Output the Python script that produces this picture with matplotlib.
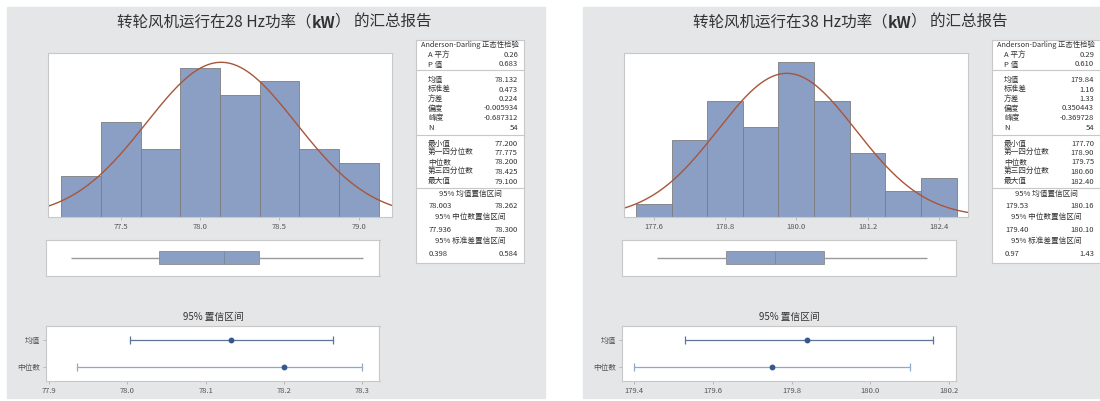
import numpy as np
import matplotlib
matplotlib.use('Agg')
import matplotlib.pyplot as plt
from matplotlib.patches import Rectangle

plt.rcParams['font.family'] = ['Noto Sans CJK SC', 'DejaVu Sans']

# ---- du lieu 28 Hz ----
hz28_edges = [77.125, 77.375, 77.625, 77.875, 78.125, 78.375, 78.625, 78.875, 79.125]
hz28_counts = [3, 7, 5, 11, 9, 10, 5, 4]
hz28_ad = ['0.26', '0.683']
hz28_desc = ['78.132', '0.473', '0.224', '-0.005934', '-0.687312', '54']
hz28_quart = ['77.200', '77.775', '78.200', '78.425', '79.100']
hz28_ci = [('78.003', '78.262'), ('77.936', '78.300'), ('0.398', '0.584')]
hz28_ticks = [77.5, 78.0, 78.5, 79.0]
hz28_ci_ticks = [77.9, 78.0, 78.1, 78.2, 78.3]

# ---- du lieu 38 Hz ----
hz38_edges = [177.3, 177.9, 178.5, 179.1, 179.7, 180.3, 180.9, 181.5, 182.1, 182.7]
hz38_counts = [1, 6, 9, 7, 12, 9, 5, 2, 3]
hz38_ad = ['0.29', '0.610']
hz38_desc = ['179.84', '1.16', '1.33', '0.350443', '-0.369728', '54']
hz38_quart = ['177.70', '178.90', '179.75', '180.60', '182.40']
hz38_ci = [('179.53', '180.16'), ('179.40', '180.10'), ('0.97', '1.43')]
hz38_ticks = [177.6, 178.8, 180.0, 181.2, 182.4]
hz38_ci_ticks = [179.4, 179.6, 179.8, 180.0, 180.2]

ad_labels = ['A 平方', 'P 值']
desc_labels = ['均值', '标准差', '方差', '偏度', '峰度', 'N']
quart_labels = ['最小值', '第一四分位数', '中位数', '第三四分位数', '最大值']
ci_heads = ['95% 均值置信区间', '95% 中位数置信区间', '95% 标准差置信区间']

W, H = 1100, 401
BG = '#e5e6e8'
BAR = '#8b9fc5'
TXT = '#333333'
SPINE = '#c8c8c8'

fig = plt.figure(figsize=(W / 100, H / 100), dpi=100)
bg = fig.add_axes([0, 0, 1, 1])
bg.set_xlim(0, W)
bg.set_ylim(H, 0)
bg.axis('off')


def rect(l, t, r, b):
    return [l / W, 1 - b / H, (r - l) / W, (b - t) / H]


def style_axes(ax):
    for s in ax.spines.values():
        s.set_color(SPINE)
        s.set_linewidth(0.8)


def draw_panel(dx, hz, edges, counts, ad, desc, quart, ci, hist_ticks, ci_ticks, hist_lim, ci_lim):
    # nen xam
    bg.add_patch(Rectangle((7 + dx, 7), 538, 391, color=BG, zorder=0))

    # tieu de (kW in dam)
    t1 = bg.text(117 + dx, 22, f'转轮风机运行在{hz} Hz功率（', fontsize=11.2, color=TXT,
                 ha='left', va='center')
    t2 = bg.annotate('kW', xy=(1, 0), xycoords=t1, ha='left', va='bottom', fontsize=11.2,
                     fontweight='bold', color=TXT)
    bg.annotate('） 的汇总报告', xy=(1, 0), xycoords=t2, ha='left', va='bottom',
                fontsize=11.2, color=TXT)

    mean, sd, n = float(desc[0]), float(desc[1]), int(desc[5])
    q = [float(v) for v in quart]
    width = edges[1] - edges[0]

    # histogram + duong phan phoi chuan
    ax = fig.add_axes(rect(48 + dx, 53, 392 + dx, 217))
    ax.bar(edges[:-1], counts, width=np.diff(edges), align='edge', color=BAR,
           edgecolor='#7d7d7d', linewidth=0.6)
    xs = np.linspace(hist_lim[0], hist_lim[1], 400)
    pdf = n * width * np.exp(-0.5 * ((xs - mean) / sd) ** 2) / (sd * np.sqrt(2 * np.pi))
    ax.plot(xs, pdf, color='#a8553a', linewidth=1.0)
    ax.set_xlim(hist_lim)
    ax.set_ylim(0, 1.06 * max(max(counts), pdf.max()))
    ax.set_xticks(hist_ticks)
    ax.set_xticklabels([f'{t:.1f}' for t in hist_ticks])
    ax.set_yticks([])
    ax.tick_params(axis='x', length=2, width=0.6, color='#b0b0b0', labelsize=5.5,
                   labelcolor='#555555', pad=2)
    style_axes(ax)

    # boxplot
    bx = fig.add_axes(rect(46 + dx, 239.5, 379.5 + dx, 276))
    bx.hlines(0.5, q[0], q[1], color='#9a9a9a', linewidth=1.0)
    bx.hlines(0.5, q[3], q[4], color='#9a9a9a', linewidth=1.0)
    bx.barh(0.5, q[3] - q[1], left=q[1], height=0.36, color=BAR, edgecolor='#8a8a8a',
            linewidth=0.6)
    bx.vlines(q[2], 0.32, 0.68, color='#7a869c', linewidth=0.6)
    bx.set_xlim(hist_lim)
    bx.set_ylim(0, 1)
    bx.set_xticks([])
    bx.set_yticks([])
    style_axes(bx)

    # khoang tin cay 95%
    bg.text(213 + dx, 317, '95% 置信区间', fontsize=7, color=TXT, ha='center', va='center')
    cx = fig.add_axes(rect(46 + dx, 326, 379.5 + dx, 381))
    rows = [(mean, ci[0], 0.75, '#5d7398'), (q[2], ci[1], 0.25, '#8fa8cd')]
    for val, (lo, hi), yy, col in rows:
        lo, hi = float(lo), float(hi)
        cx.errorbar(val, yy, xerr=[[val - lo], [hi - val]], fmt='o', color='#35598f',
                    ecolor=col, elinewidth=0.9, capsize=3, capthick=0.9, markersize=3.2)
    cx.set_xlim(ci_lim)
    cx.set_ylim(0, 1)
    cx.set_xticks(ci_ticks)
    cx.set_xticklabels([f'{t:.1f}' for t in ci_ticks])
    cx.set_yticks([0.75, 0.25])
    cx.set_yticklabels(['均值', '中位数'])
    cx.tick_params(length=2, width=0.6, color='#b0b0b0', labelsize=5.5,
                   labelcolor='#555555', pad=2)
    style_axes(cx)

    # bang thong ke
    L, T, R, B = 416 + dx, 39.5, 524 + dx, 263
    bg.add_patch(Rectangle((L, T), R - L, B - T, facecolor='white', edgecolor=SPINE,
                           linewidth=0.8, zorder=1))
    for yy in [69.5, 135, 188]:
        bg.hlines(yy, L, R, color=SPINE, linewidth=0.8, zorder=2)
    fs = 5.5
    lx, rx = L + 12, L + 102
    bg.text(L + 5, 44.5, 'Anderson-Darling 正态性检验', fontsize=5.3, color=TXT,
            ha='left', va='center', zorder=3)
    step = 9.5
    groups = [(55, ad_labels, ad), (80, desc_labels, desc), (143.5, quart_labels, quart)]
    for y0, labs, vals in groups:
        for i, (lab, val) in enumerate(zip(labs, vals)):
            bg.text(lx, y0 + i * step, lab, fontsize=fs, color=TXT, ha='left', va='center', zorder=3)
            bg.text(rx, y0 + i * step, val, fontsize=fs, color=TXT, ha='right', va='center', zorder=3)
    for i, (head, (lo, hi)) in enumerate(zip(ci_heads, ci)):
        yh = 193.5 + i * 23.75
        bg.text((L + R) / 2, yh, head, fontsize=fs, color=TXT, ha='center', va='center', zorder=3)
        bg.text(lx + 1, yh + 12.5, lo, fontsize=fs, color=TXT, ha='left', va='center', zorder=3)
        bg.text(rx, yh + 12.5, hi, fontsize=fs, color=TXT, ha='right', va='center', zorder=3)


draw_panel(0, 28, hz28_edges, hz28_counts, hz28_ad, hz28_desc, hz28_quart, hz28_ci,
           hz28_ticks, hz28_ci_ticks, (77.04, 79.21), (77.896, 78.322))
draw_panel(576, 38, hz38_edges, hz38_counts, hz38_ad, hz38_desc, hz38_quart, hz38_ci,
           hz38_ticks, hz38_ci_ticks, (177.1, 182.89), (179.369, 180.216))

fig.savefig('out.png', dpi=100)
